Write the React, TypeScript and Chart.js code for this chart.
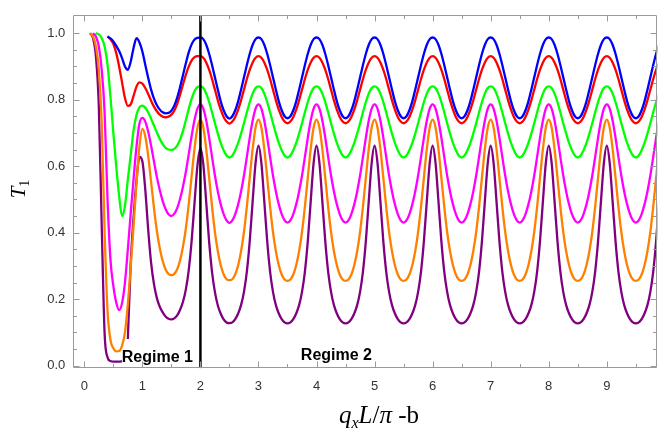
import React, { useEffect, useRef } from "react";
import { Chart, registerables } from "chart.js";

Chart.register(...registerables);

// sample positions (q_x L/pi - b)
const X = [
  0.10, 0.15, 0.20, 0.25, 0.30, 0.35, 0.40, 0.45, 0.50, 0.55, 0.60, 0.65, 0.70, 0.75, 0.80, 0.85, 0.90, 0.95,
  1.00, 1.05, 1.10, 1.15, 1.20, 1.25, 1.30, 1.35, 1.40, 1.45, 1.50, 1.55, 1.60, 1.65, 1.70, 1.75, 1.80, 1.85, 1.90, 1.95,
  2.00, 2.05, 2.10, 2.15, 2.20, 2.25, 2.30, 2.35, 2.40, 2.45, 2.50, 2.55, 2.60, 2.65, 2.70, 2.75, 2.80, 2.85, 2.90, 2.95,
  3.00, 3.05, 3.10, 3.15, 3.20, 3.25, 3.30, 3.35, 3.40, 3.45, 3.50, 3.55, 3.60, 3.65, 3.70, 3.75, 3.80, 3.85, 3.90, 3.95,
  4.00, 4.05, 4.10, 4.15, 4.20, 4.25, 4.30, 4.35, 4.40, 4.45, 4.50, 4.55, 4.60, 4.65, 4.70, 4.75, 4.80, 4.85, 4.90, 4.95,
  5.00, 5.05, 5.10, 5.15, 5.20, 5.25, 5.30, 5.35, 5.40, 5.45, 5.50, 5.55, 5.60, 5.65, 5.70, 5.75, 5.80, 5.85, 5.90, 5.95,
  6.00, 6.05, 6.10, 6.15, 6.20, 6.25, 6.30, 6.35, 6.40, 6.45, 6.50, 6.55, 6.60, 6.65, 6.70, 6.75, 6.80, 6.85, 6.90, 6.95,
  7.00, 7.05, 7.10, 7.15, 7.20, 7.25, 7.30, 7.35, 7.40, 7.45, 7.50, 7.55, 7.60, 7.65, 7.70, 7.75, 7.80, 7.85, 7.90, 7.95,
  8.00, 8.05, 8.10, 8.15, 8.20, 8.25, 8.30, 8.35, 8.40, 8.45, 8.50, 8.55, 8.60, 8.65, 8.70, 8.75, 8.80, 8.85, 8.90, 8.95,
  9.00, 9.05, 9.10, 9.15, 9.20, 9.25, 9.30, 9.35, 9.40, 9.45, 9.50, 9.55, 9.60, 9.65, 9.70, 9.75, 9.80, 9.85, 9.90,
];

const BLUE = [
  null, null, null, null, null, null, 0.990, 0.984, 0.975, 0.962, 0.946, 0.925, 0.900, 0.890, 0.915, 0.957, 0.985, 0.972,
  0.945, 0.905, 0.866, 0.830, 0.803, 0.783, 0.770, 0.762, 0.759, 0.760, 0.767, 0.782, 0.806, 0.838, 0.874, 0.910, 0.943, 0.967, 0.981, 0.986,
  0.987, 0.982, 0.965, 0.938, 0.904, 0.867, 0.830, 0.795, 0.768, 0.750, 0.743, 0.750, 0.768, 0.795, 0.830, 0.867, 0.904, 0.938, 0.965, 0.982,
  0.987, 0.982, 0.965, 0.938, 0.904, 0.867, 0.830, 0.795, 0.768, 0.750, 0.744, 0.750, 0.768, 0.795, 0.830, 0.867, 0.904, 0.938, 0.965, 0.982,
  0.987, 0.982, 0.965, 0.938, 0.904, 0.867, 0.830, 0.795, 0.768, 0.750, 0.744, 0.750, 0.768, 0.795, 0.830, 0.867, 0.904, 0.938, 0.965, 0.982,
  0.987, 0.982, 0.965, 0.938, 0.904, 0.867, 0.830, 0.795, 0.768, 0.750, 0.744, 0.750, 0.768, 0.795, 0.830, 0.867, 0.904, 0.938, 0.965, 0.982,
  0.987, 0.982, 0.965, 0.938, 0.904, 0.867, 0.830, 0.795, 0.768, 0.750, 0.744, 0.750, 0.768, 0.795, 0.830, 0.867, 0.904, 0.938, 0.965, 0.982,
  0.987, 0.982, 0.965, 0.938, 0.904, 0.867, 0.830, 0.795, 0.768, 0.750, 0.744, 0.750, 0.768, 0.795, 0.830, 0.867, 0.904, 0.938, 0.965, 0.982,
  0.987, 0.982, 0.965, 0.938, 0.904, 0.867, 0.830, 0.795, 0.768, 0.750, 0.744, 0.750, 0.768, 0.795, 0.830, 0.867, 0.904, 0.938, 0.965, 0.982,
  0.987, 0.982, 0.965, 0.938, 0.904, 0.867, 0.830, 0.795, 0.768, 0.750, 0.744, 0.750, 0.768, 0.795, 0.830, 0.867, 0.904, 0.938, 0.965,
];

const RED = [
  null, null, null, null, null, null, 0.990, 0.982, 0.968, 0.940, 0.900, 0.852, 0.805, 0.781, 0.786, 0.812, 0.840, 0.852,
  0.848, 0.835, 0.817, 0.797, 0.779, 0.765, 0.755, 0.749, 0.747, 0.749, 0.755, 0.767, 0.787, 0.815, 0.846, 0.875, 0.900, 0.918, 0.928, 0.931,
  0.931, 0.926, 0.912, 0.890, 0.862, 0.830, 0.798, 0.770, 0.748, 0.734, 0.728, 0.734, 0.748, 0.770, 0.798, 0.830, 0.862, 0.890, 0.912, 0.926,
  0.931, 0.926, 0.912, 0.890, 0.862, 0.830, 0.798, 0.770, 0.748, 0.734, 0.729, 0.734, 0.748, 0.770, 0.798, 0.830, 0.862, 0.890, 0.912, 0.926,
  0.931, 0.926, 0.912, 0.890, 0.862, 0.830, 0.798, 0.770, 0.748, 0.734, 0.729, 0.734, 0.748, 0.770, 0.798, 0.830, 0.862, 0.890, 0.912, 0.926,
  0.931, 0.926, 0.912, 0.890, 0.862, 0.830, 0.798, 0.770, 0.748, 0.734, 0.729, 0.734, 0.748, 0.770, 0.798, 0.830, 0.862, 0.890, 0.912, 0.926,
  0.931, 0.926, 0.912, 0.890, 0.862, 0.830, 0.798, 0.770, 0.748, 0.734, 0.729, 0.734, 0.748, 0.770, 0.798, 0.830, 0.862, 0.890, 0.912, 0.926,
  0.931, 0.926, 0.912, 0.890, 0.862, 0.830, 0.798, 0.770, 0.748, 0.734, 0.729, 0.734, 0.748, 0.770, 0.798, 0.830, 0.862, 0.890, 0.912, 0.926,
  0.931, 0.926, 0.912, 0.890, 0.862, 0.830, 0.798, 0.770, 0.748, 0.734, 0.729, 0.734, 0.748, 0.770, 0.798, 0.830, 0.862, 0.890, 0.912, 0.926,
  0.931, 0.926, 0.912, 0.890, 0.862, 0.830, 0.798, 0.770, 0.748, 0.734, 0.729, 0.734, 0.748, 0.770, 0.798, 0.830, 0.862, 0.890, 0.912,
];

const GREEN = [
  null, null, 1.000, 0.996, 0.985, 0.960, 0.905, 0.810, 0.700, 0.600, 0.510, 0.450, 0.480, 0.560, 0.635, 0.710, 0.755, 0.777,
  0.782, 0.776, 0.762, 0.743, 0.722, 0.701, 0.682, 0.666, 0.655, 0.650, 0.649, 0.652, 0.662, 0.680, 0.706, 0.739, 0.773, 0.803, 0.826, 0.838,
  0.840, 0.835, 0.818, 0.793, 0.762, 0.729, 0.698, 0.670, 0.648, 0.632, 0.626, 0.632, 0.648, 0.670, 0.698, 0.729, 0.762, 0.793, 0.818, 0.835,
  0.840, 0.835, 0.818, 0.793, 0.762, 0.729, 0.698, 0.670, 0.648, 0.632, 0.626, 0.632, 0.648, 0.670, 0.698, 0.729, 0.762, 0.793, 0.818, 0.835,
  0.840, 0.835, 0.818, 0.793, 0.762, 0.729, 0.698, 0.670, 0.648, 0.632, 0.626, 0.632, 0.648, 0.670, 0.698, 0.729, 0.762, 0.793, 0.818, 0.835,
  0.840, 0.835, 0.818, 0.793, 0.762, 0.729, 0.698, 0.670, 0.648, 0.632, 0.626, 0.632, 0.648, 0.670, 0.698, 0.729, 0.762, 0.793, 0.818, 0.835,
  0.840, 0.835, 0.818, 0.793, 0.762, 0.729, 0.698, 0.670, 0.648, 0.632, 0.626, 0.632, 0.648, 0.670, 0.698, 0.729, 0.762, 0.793, 0.818, 0.835,
  0.840, 0.835, 0.818, 0.793, 0.762, 0.729, 0.698, 0.670, 0.648, 0.632, 0.626, 0.632, 0.648, 0.670, 0.698, 0.729, 0.762, 0.793, 0.818, 0.835,
  0.840, 0.835, 0.818, 0.793, 0.762, 0.729, 0.698, 0.670, 0.648, 0.632, 0.626, 0.632, 0.648, 0.670, 0.698, 0.729, 0.762, 0.793, 0.818, 0.835,
  0.840, 0.835, 0.818, 0.793, 0.762, 0.729, 0.698, 0.670, 0.648, 0.632, 0.626, 0.632, 0.648, 0.670, 0.698, 0.729, 0.762, 0.793, 0.818,
];

const MAGENTA = [
  null, 1.000, 0.990, 0.960, 0.890, 0.760, 0.500, 0.320, 0.240, 0.190, 0.167, 0.188, 0.250, 0.350, 0.460, 0.565, 0.660, 0.728,
  0.745, 0.734, 0.704, 0.662, 0.614, 0.567, 0.528, 0.495, 0.471, 0.455, 0.450, 0.457, 0.474, 0.502, 0.539, 0.584, 0.637, 0.692, 0.740, 0.774,
  0.786, 0.773, 0.737, 0.686, 0.628, 0.572, 0.524, 0.485, 0.456, 0.437, 0.429, 0.437, 0.456, 0.485, 0.524, 0.572, 0.628, 0.686, 0.737, 0.773,
  0.786, 0.773, 0.737, 0.686, 0.628, 0.572, 0.524, 0.485, 0.456, 0.437, 0.430, 0.437, 0.456, 0.485, 0.524, 0.572, 0.628, 0.686, 0.737, 0.773,
  0.786, 0.773, 0.737, 0.686, 0.628, 0.572, 0.524, 0.485, 0.456, 0.437, 0.430, 0.437, 0.456, 0.485, 0.524, 0.572, 0.628, 0.686, 0.737, 0.773,
  0.786, 0.773, 0.737, 0.686, 0.628, 0.572, 0.524, 0.485, 0.456, 0.437, 0.430, 0.437, 0.456, 0.485, 0.524, 0.572, 0.628, 0.686, 0.737, 0.773,
  0.786, 0.773, 0.737, 0.686, 0.628, 0.572, 0.524, 0.485, 0.456, 0.437, 0.430, 0.437, 0.456, 0.485, 0.524, 0.572, 0.628, 0.686, 0.737, 0.773,
  0.786, 0.773, 0.737, 0.686, 0.628, 0.572, 0.524, 0.485, 0.456, 0.437, 0.430, 0.437, 0.456, 0.485, 0.524, 0.572, 0.628, 0.686, 0.737, 0.773,
  0.786, 0.773, 0.737, 0.686, 0.628, 0.572, 0.524, 0.485, 0.456, 0.437, 0.430, 0.437, 0.456, 0.485, 0.524, 0.572, 0.628, 0.686, 0.737, 0.773,
  0.786, 0.773, 0.737, 0.686, 0.628, 0.572, 0.524, 0.485, 0.456, 0.437, 0.430, 0.437, 0.456, 0.485, 0.524, 0.572, 0.628, 0.686, 0.737,
];

const ORANGE = [
  1.000, 0.990, 0.960, 0.890, 0.730, 0.400, 0.165, 0.078, 0.052, 0.043, 0.044, 0.060, 0.100, 0.185, 0.300, 0.425, 0.550, 0.660,
  0.712, 0.690, 0.632, 0.554, 0.474, 0.405, 0.353, 0.315, 0.289, 0.276, 0.272, 0.276, 0.290, 0.317, 0.358, 0.414, 0.487, 0.572, 0.655, 0.717,
  0.740, 0.716, 0.652, 0.566, 0.478, 0.402, 0.344, 0.302, 0.275, 0.260, 0.257, 0.260, 0.275, 0.302, 0.344, 0.402, 0.478, 0.566, 0.652, 0.716,
  0.740, 0.716, 0.652, 0.566, 0.478, 0.402, 0.344, 0.302, 0.274, 0.259, 0.255, 0.259, 0.274, 0.302, 0.344, 0.402, 0.478, 0.566, 0.652, 0.716,
  0.740, 0.716, 0.652, 0.566, 0.478, 0.402, 0.344, 0.302, 0.274, 0.259, 0.255, 0.259, 0.274, 0.302, 0.344, 0.402, 0.478, 0.566, 0.652, 0.716,
  0.740, 0.716, 0.652, 0.566, 0.478, 0.402, 0.344, 0.302, 0.274, 0.259, 0.255, 0.259, 0.274, 0.302, 0.344, 0.402, 0.478, 0.566, 0.652, 0.716,
  0.740, 0.716, 0.652, 0.566, 0.478, 0.402, 0.344, 0.302, 0.274, 0.259, 0.255, 0.259, 0.274, 0.302, 0.344, 0.402, 0.478, 0.566, 0.652, 0.716,
  0.740, 0.716, 0.652, 0.566, 0.478, 0.402, 0.344, 0.302, 0.274, 0.259, 0.255, 0.259, 0.274, 0.302, 0.344, 0.402, 0.478, 0.566, 0.652, 0.716,
  0.740, 0.716, 0.652, 0.566, 0.478, 0.402, 0.344, 0.302, 0.274, 0.259, 0.255, 0.259, 0.274, 0.302, 0.344, 0.402, 0.478, 0.566, 0.652, 0.716,
  0.740, 0.716, 0.652, 0.566, 0.478, 0.402, 0.344, 0.302, 0.274, 0.259, 0.255, 0.259, 0.274, 0.302, 0.344, 0.402, 0.478, 0.566, 0.652,
];

const PURPLE = [
  1.000, 0.985, 0.930, 0.780, 0.420, 0.095, 0.025, 0.014, 0.012, 0.012, 0.012, 0.013, null, 0.080, 0.310, 0.450, 0.560, 0.628,
  0.615, 0.530, 0.410, 0.310, 0.245, 0.203, 0.177, 0.160, 0.148, 0.141, 0.139, 0.142, 0.151, 0.168, 0.192, 0.230, 0.289, 0.378, 0.493, 0.604,
  0.654, 0.605, 0.492, 0.373, 0.282, 0.221, 0.181, 0.156, 0.139, 0.130, 0.128, 0.130, 0.140, 0.157, 0.182, 0.222, 0.283, 0.375, 0.495, 0.610,
  0.662, 0.610, 0.495, 0.375, 0.283, 0.222, 0.182, 0.157, 0.140, 0.130, 0.127, 0.130, 0.140, 0.157, 0.182, 0.222, 0.283, 0.375, 0.495, 0.610,
  0.662, 0.610, 0.495, 0.375, 0.283, 0.222, 0.182, 0.157, 0.140, 0.130, 0.127, 0.130, 0.140, 0.157, 0.182, 0.222, 0.283, 0.375, 0.495, 0.610,
  0.662, 0.610, 0.495, 0.375, 0.283, 0.222, 0.182, 0.157, 0.140, 0.130, 0.127, 0.130, 0.140, 0.157, 0.182, 0.222, 0.283, 0.375, 0.495, 0.610,
  0.662, 0.610, 0.495, 0.375, 0.283, 0.222, 0.182, 0.157, 0.140, 0.130, 0.127, 0.130, 0.140, 0.157, 0.182, 0.222, 0.283, 0.375, 0.495, 0.610,
  0.662, 0.610, 0.495, 0.375, 0.283, 0.222, 0.182, 0.157, 0.140, 0.130, 0.127, 0.130, 0.140, 0.157, 0.182, 0.222, 0.283, 0.375, 0.495, 0.610,
  0.662, 0.610, 0.495, 0.375, 0.283, 0.222, 0.182, 0.157, 0.140, 0.130, 0.127, 0.130, 0.140, 0.157, 0.182, 0.222, 0.283, 0.375, 0.495, 0.610,
  0.662, 0.610, 0.495, 0.375, 0.283, 0.222, 0.182, 0.157, 0.140, 0.130, 0.127, 0.130, 0.140, 0.157, 0.182, 0.222, 0.283, 0.375, 0.495,
];

const SERIES_NAMES = ["blue", "red", "green", "magenta", "orange", "purple"];
const SERIES_VALUES = [BLUE, RED, GREEN, MAGENTA, ORANGE, PURPLE];
const SERIES_COLORS = ["#0000ff", "#ff0000", "#00ff00", "#ff00ff", "#ff8000", "#800080"];

const DIVIDER_X = 2;
const X_MIN = -0.2;
const X_MAX = 9.87;
const Y_MIN = -0.008;
const Y_MAX = 1.054;

const X_MAJOR = [0, 1, 2, 3, 4, 5, 6, 7, 8, 9];
const X_MINOR = [0.5, 1.5, 2.5, 3.5, 4.5, 5.5, 6.5, 7.5, 8.5, 9.5];
const Y_MAJOR = [0, 0.2, 0.4, 0.6, 0.8, 1.0];
const Y_MINOR = [0.05, 0.1, 0.15, 0.25, 0.3, 0.35, 0.45, 0.5, 0.55, 0.65, 0.7, 0.75, 0.85, 0.9, 0.95];

const REGIME_LABELS = ["Regime 1", "Regime 2"];
const REGIME_X = [0.645, 3.73];
const REGIME_Y = [0.012, 0.016];

const FRAME_COLOR = "#9a9a9a";
const TICK_COLOR = "#333333";
const SANS = "'Liberation Sans', Arial, sans-serif";
const SERIF = "'Liberation Serif', 'Times New Roman', serif";

const framePlugin = {
  id: "mmaFrame",
  afterDatasetsDraw(chart: any) {
    const { ctx, chartArea: a, scales } = chart;
    const xs = scales.x;
    const ys = scales.y;
    ctx.save();
    ctx.strokeStyle = FRAME_COLOR;
    ctx.lineWidth = 1;
    const L = Math.round(a.left) + 0.5;
    const R = Math.round(a.right) - 0.5;
    const T = Math.round(a.top) + 0.5;
    const B = Math.round(a.bottom) - 0.5;
    ctx.beginPath();
    ctx.rect(L, T, R - L, B - T);
    const xt = (vals: number[], len: number) => {
      vals.forEach((v) => {
        const p = Math.round(xs.getPixelForValue(v)) + 0.5;
        ctx.moveTo(p, B);
        ctx.lineTo(p, B - len);
        ctx.moveTo(p, T);
        ctx.lineTo(p, T + len);
      });
    };
    const yt = (vals: number[], len: number) => {
      vals.forEach((v) => {
        const p = Math.round(ys.getPixelForValue(v)) + 0.5;
        ctx.moveTo(L, p);
        ctx.lineTo(L + len, p);
        ctx.moveTo(R, p);
        ctx.lineTo(R - len, p);
      });
    };
    xt(X_MAJOR, 6);
    xt(X_MINOR, 3.5);
    yt(Y_MAJOR, 6);
    yt(Y_MINOR, 3.5);
    ctx.stroke();
    ctx.restore();
  },
};

const textPlugin = {
  id: "mmaText",
  afterDraw(chart: any) {
    const { ctx, scales } = chart;
    const xs = scales.x;
    const ys = scales.y;
    ctx.save();
    // regime labels
    ctx.fillStyle = "#000";
    ctx.font = `bold 16px ${SANS}`;
    ctx.textAlign = "left";
    ctx.textBaseline = "alphabetic";
    REGIME_LABELS.forEach((t, i) => {
      ctx.fillText(t, xs.getPixelForValue(REGIME_X[i]), ys.getPixelForValue(REGIME_Y[i]));
    });

    // x axis title: q_x L/π -b
    const parts = [
      { t: "q", f: `italic 25px ${SERIF}`, dy: 0 },
      { t: "x", f: `italic 16px ${SERIF}`, dy: 5 },
      { t: "L", f: `italic 25px ${SERIF}`, dy: 0 },
      { t: "/", f: `25px ${SERIF}`, dy: 0 },
      { t: "π", f: `italic 25px ${SERIF}`, dy: 0 },
      { t: " -b", f: `25px ${SERIF}`, dy: 0 },
    ];
    let total = 0;
    const widths = parts.map((p) => {
      ctx.font = p.f;
      const w = ctx.measureText(p.t).width;
      total += w;
      return w;
    });
    let cx = 379 - total / 2;
    const base = 423;
    ctx.fillStyle = "#000";
    parts.forEach((p, i) => {
      ctx.font = p.f;
      ctx.fillText(p.t, cx, base + p.dy);
      cx += widths[i];
    });

    // y axis title: T_1
    ctx.translate(18, 189);
    ctx.rotate(-Math.PI / 2);
    ctx.font = `italic 21px ${SERIF}`;
    const wT = ctx.measureText("T").width;
    ctx.font = `14px ${SERIF}`;
    const w1 = ctx.measureText("1").width;
    const sx = -(wT + w1) / 2;
    ctx.font = `italic 21px ${SERIF}`;
    ctx.fillText("T", sx, 7);
    ctx.font = `14px ${SERIF}`;
    ctx.fillText("1", sx + wT, 11);
    ctx.restore();
  },
};

export default function App() {
  const ref = useRef<HTMLCanvasElement>(null);

  useEffect(() => {
    document.body.style.margin = "0";
    const canvas = ref.current;
    if (!canvas) return;
    const datasets: any[] = [
      {
        label: "divider",
        data: [
          { x: DIVIDER_X, y: Y_MIN },
          { x: DIVIDER_X, y: Y_MAX },
        ],
        borderColor: "#000000",
        borderWidth: 2.5,
        pointRadius: 0,
        tension: 0,
      },
    ];
    SERIES_VALUES.forEach((vals, i) => {
      datasets.push({
        label: SERIES_NAMES[i],
        data: X.map((x, j) => ({ x, y: vals[j] })),
        borderColor: SERIES_COLORS[i],
        borderWidth: 2.3,
        pointRadius: 0,
        cubicInterpolationMode: "monotone",
        spanGaps: false,
      });
    });

    const chart = new Chart(canvas, {
      type: "line",
      data: { datasets },
      options: {
        animation: false,
        responsive: false,
        maintainAspectRatio: false,
        events: [],
        layout: { padding: { left: 0, right: 7.7, top: 7.3, bottom: 0 } },
        plugins: {
          legend: { display: false },
          tooltip: { enabled: false },
        },
        scales: {
          x: {
            type: "linear",
            min: X_MIN,
            max: X_MAX,
            grid: { display: false, drawTicks: false },
            border: { display: false },
            afterBuildTicks: (s: any) => {
              s.ticks = X_MAJOR.map((v) => ({ value: v }));
            },
            afterFit: (s: any) => {
              s.height = 61.7;
            },
            ticks: {
              padding: 10,
              color: TICK_COLOR,
              font: { family: SANS, size: 13 },
              maxRotation: 0,
              autoSkip: false,
              callback: (v: any) => String(v),
            },
          },
          y: {
            type: "linear",
            min: Y_MIN,
            max: Y_MAX,
            grid: { display: false, drawTicks: false },
            border: { display: false },
            afterBuildTicks: (s: any) => {
              s.ticks = Y_MAJOR.map((v) => ({ value: v }));
            },
            afterFit: (s: any) => {
              s.width = 72.7;
            },
            ticks: {
              padding: 7.4,
              color: TICK_COLOR,
              font: { family: SANS, size: 13 },
              autoSkip: false,
              callback: (v: any) => Number(v).toFixed(1),
            },
          },
        },
      },
      plugins: [framePlugin, textPlugin],
    });
    return () => chart.destroy();
  }, []);

  return <canvas ref={ref} width={665} height={430} style={{ display: "block" }} />;
}
